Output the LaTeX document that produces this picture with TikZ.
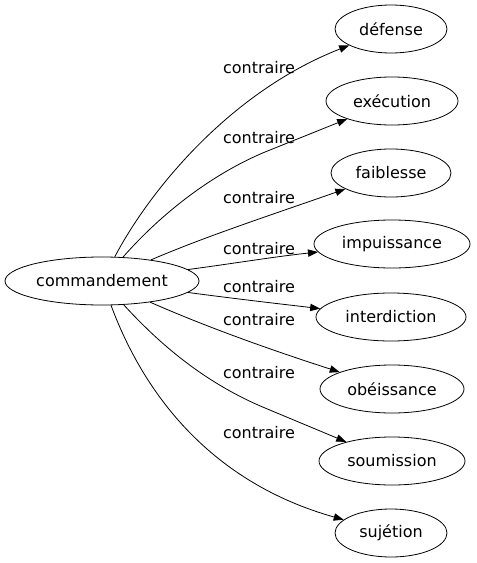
\documentclass[tikz,border=0pt]{standalone}
\usepackage{fontspec}
\setmainfont{DejaVu Sans}
\usetikzlibrary{shapes.geometric, arrows.meta}
\tikzset{
x=0.75pt, y=-0.75pt, % one unit is one pixel of the reference
every path/.style={line width=0.6pt}, % thin lines everywhere
>={Triangle[length=7.5pt, width=5.5pt]}, % filled arrow heads
word/.style={draw, ellipse, minimum height=36pt, inner sep=0pt, font=\fontsize{12}{14}\selectfont}, % the words
rel/.style={font=\fontsize{12}{14}\selectfont, inner sep=0pt}, % the edge labels
}
\begin{document}
\begin{tikzpicture}
        \useasboundingbox[fill=white] (0,0) rectangle (476,563);
        \node[word, minimum width=145.5pt] (cmd) at (102,281) {commandement};
        \node[word, minimum width=84pt] (def) at (391,29) {défense};
        \node[word, minimum width=99pt] (exe) at (392,101) {exécution};
        \node[word, minimum width=90pt] (fai) at (391,173) {faiblesse};
        \node[word, minimum width=117pt] (imp) at (392,244) {impuissance};
        \node[word, minimum width=112.5pt] (int) at (391,317) {interdiction};
        \node[word, minimum width=108pt] (obe) at (392,389) {obéissance};
        \node[word, minimum width=109.5pt] (sou) at (392,461) {soumission};
        \node[word, minimum width=84pt] (suj) at (391,533) {sujétion};

        \node[rel] (l1) at (259,68) {contraire};
        \node[rel] (l2) at (259,138) {contraire};
        \node[rel] (l3) at (259,198) {contraire};
        \node[rel] (l4) at (259,249) {contraire};
        \node[rel] (l5) at (259,287) {contraire};
        \node[rel] (l6) at (259,320) {contraire};
        \node[rel] (l7) at (259,373) {contraire};
        \node[rel] (l8) at (259,433) {contraire};

        \draw[->] (cmd) .. controls (150,190) and (230,92) .. (def);
        \draw[->] (cmd) .. controls (160,215) and (210,175) .. (265,152) -- (exe);
        \draw[->] (cmd) .. controls (204,237) and (271,215) .. (fai);
        \draw[->] (cmd) .. controls (237,263) and (272,257) .. (imp);
        \draw[->] (cmd) .. controls (237,299) and (281,304) .. (int);
        \draw[->] (cmd) .. controls (202,325) and (262,347) .. (obe);
        \draw[->] (cmd) .. controls (165,350) and (210,385) .. (265,408) -- (sou);
        \draw[->] (cmd) .. controls (148,405) and (220,485) .. (suj);
      \end{tikzpicture}
\end{document}
